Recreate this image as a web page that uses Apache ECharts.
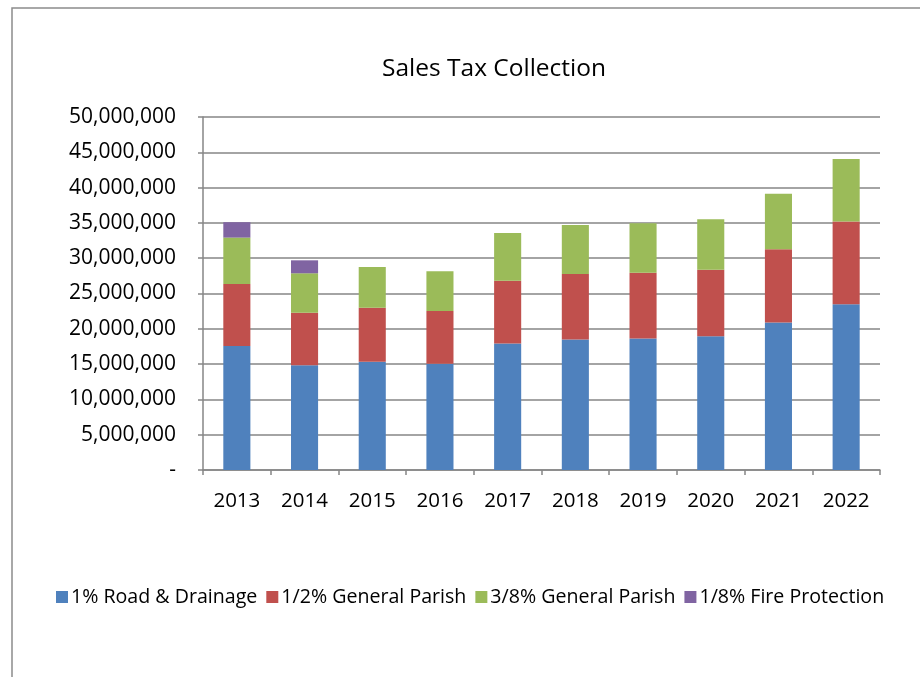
<!DOCTYPE html>
<html>
<head>
<meta charset="utf-8">
<script src="https://cdn.jsdelivr.net/npm/echarts@6/dist/echarts.min.js"></script>
<style>
  html, body { margin: 0; padding: 0; background: #fff; }
  #chart { width: 920px; height: 677px; }
</style>
</head>
<body>
<div id="chart"></div>
<script>
// Sales tax collection by fund, 2013-2022
const years = ['2013', '2014', '2015', '2016', '2017', '2018', '2019', '2020', '2021', '2022'];
const roadDrainage = [17550000, 14850000, 15330000, 15040000, 17930000, 18500000, 18640000, 18930000, 20910000, 23470000];
const halfGeneral = [8800000, 7430000, 7660000, 7480000, 8890000, 9270000, 9310000, 9450000, 10360000, 11720000];
const threeEighthsGeneral = [6570000, 5580000, 5770000, 5630000, 6760000, 6950000, 7010000, 7150000, 7850000, 8850000];
const fireProtection = [2180000, 1840000, null, null, null, null, null, null, null, null];
const seriesNames = ['1% Road & Drainage', '1/2% General Parish', '3/8% General Parish', '1/8% Fire Protection'];
const colors = ['#4F81BD', '#C0504D', '#9BBB59', '#8064A2'];

const FONT = '"Open Sans", "Noto Sans", sans-serif';

const chart = echarts.init(document.getElementById('chart'), null, { renderer: 'canvas' });

function fmt(v) {
  if (v === 0) return '-';
  return v.toString().replace(/\B(?=(\d{3})+(?!\d))/g, ',');
}

function bar(name, data, color) {
  return {
    name: name,
    type: 'bar',
    stack: 'total',
    data: data,
    barCategoryGap: '60%',
    itemStyle: { color: color },
    emphasis: { disabled: true }
  };
}

chart.setOption({
  animation: false,
  color: colors,
  graphic: [{
    type: 'polyline',
    shape: { points: [[12, 677], [12, 8], [920, 8]] },
    style: { stroke: '#8c8c8c', lineWidth: 1.5, fill: null }
  }],
  title: {
    text: 'Sales Tax Collection',
    left: 377,
    top: 52,
    textStyle: { fontFamily: FONT, fontSize: 24.5, fontWeight: 'normal', color: '#000' }
  },
  legend: {
    top: 582,
    left: 51,
    itemWidth: 12,
    itemHeight: 12,
    itemGap: 9,
    icon: 'rect',
    textStyle: { fontFamily: FONT, fontSize: 19.6, color: '#000', padding: [0, 0, 0, -2] },
    data: seriesNames
  },
  grid: { left: 203, right: 40, top: 117, bottom: 207, containLabel: false },
  xAxis: {
    type: 'category',
    data: years,
    axisLine: { lineStyle: { color: '#868686', width: 1.5 } },
    axisTick: { show: true, length: 5, lineStyle: { color: '#868686', width: 1.5 } },
    axisLabel: { fontFamily: FONT, fontSize: 20.5, color: '#000', margin: 21 }
  },
  yAxis: {
    type: 'value',
    min: 0,
    max: 50000000,
    interval: 5000000,
    axisLine: { show: true, lineStyle: { color: '#868686', width: 1.5 } },
    axisTick: { show: true, inside: false, length: 5, lineStyle: { color: '#868686', width: 1.5 } },
    splitLine: { show: true, lineStyle: { color: '#868686', width: 1.5 } },
    axisLabel: { fontFamily: FONT, fontSize: 21, color: '#000', margin: 27, formatter: fmt }
  },
  series: [
    bar(seriesNames[0], roadDrainage, colors[0]),
    bar(seriesNames[1], halfGeneral, colors[1]),
    bar(seriesNames[2], threeEighthsGeneral, colors[2]),
    bar(seriesNames[3], fireProtection, colors[3])
  ]
});
</script>
</body>
</html>
